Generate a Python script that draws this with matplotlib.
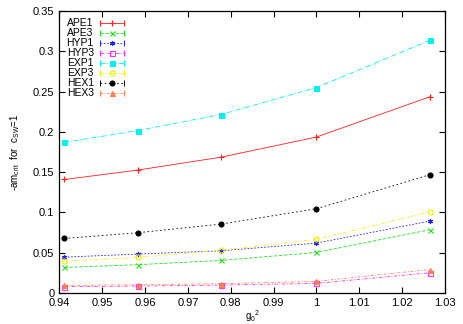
import numpy as np
import matplotlib
matplotlib.use("Agg")
import matplotlib.pyplot as plt
from matplotlib.lines import Line2D
from matplotlib.legend_handler import HandlerBase

plt.rcParams['font.family'] = ['Liberation Sans', 'DejaVu Sans']
plt.rcParams['font.size'] = 7
plt.rcParams['mathtext.fontset'] = 'custom'
plt.rcParams['mathtext.rm'] = 'Liberation Sans'
plt.rcParams['mathtext.it'] = 'Liberation Sans'

# g0^2 values
g0sq = [0.9412, 0.9583, 0.9777, 1.0, 1.0264]

ape1 = [0.1408, 0.1525, 0.1685, 0.1935, 0.2434]
ape3 = [0.0316, 0.0350, 0.0403, 0.0502, 0.0784]
hyp1 = [0.0444, 0.0482, 0.0523, 0.0618, 0.0891]
hyp3 = [0.0077, 0.0085, 0.0097, 0.0118, 0.0250]
exp1 = [0.1870, 0.2016, 0.2215, 0.2550, 0.3135]
exp3 = [0.0395, 0.0440, 0.0530, 0.0664, 0.1007]
hex1 = [0.0676, 0.0747, 0.0854, 0.1045, 0.1466]
hex3 = [0.0093, 0.0101, 0.0114, 0.0143, 0.0290]

labels = ['APE1', 'APE3', 'HYP1', 'HYP3', 'EXP1', 'EXP3', 'HEX1', 'HEX3']
series = [ape1, ape3, hyp1, hyp3, exp1, exp3, hex1, hex3]
colors = ['#ff2020', '#20e020', '#2020ff', '#ff30ff', '#00f0f0', '#f0f000', '#000000', '#ff7f50']
markers = ['+', 'x', (6, 2, 0), 's', 's', 'o', 'o', '^']
filled = [True, True, True, False, True, False, True, True]
dashes = [None, (4, 2), (2, 2), (4, 2, 1, 2), (6, 2, 1, 2), (4, 2, 1, 2, 1, 2), (2, 3), (3, 2, 1, 2)]


class CapHandler(HandlerBase):
    def create_artists(self, legend, orig, xdescent, ydescent, width, height, fontsize, trans):
        y = (height - ydescent) / 2.0
        x0, x1 = -xdescent, -xdescent + width
        ln = Line2D([x0, x1], [y, y])
        ln.update_from(orig)
        ln.set_marker('')
        caps = Line2D([x0, x1], [y, y], ls='none', marker='|', ms=4, mew=0.7,
                      color=orig.get_color())
        mk = Line2D([(x0 + x1) / 2], [y], ls='none', marker=orig.get_marker(),
                    ms=orig.get_markersize(), mew=orig.get_markeredgewidth(),
                    mfc=orig.get_markerfacecolor(), mec=orig.get_markeredgecolor())
        for a in (ln, caps, mk):
            a.set_transform(trans)
        return [ln, caps, mk]


fig = plt.figure(figsize=(4.63, 3.24), dpi=100)
ax = fig.add_axes([0.128, 0.096, 0.833, 0.870])

handles = []
for lab, ys, c, m, f, d in zip(labels, series, colors, markers, filled, dashes):
    h, = ax.plot(g0sq, ys, color=c, lw=0.6, marker=m, ms=3.6 if m != '+' else 4.5,
                 mfc=c if f else 'none', mec=c, mew=0.8, label=lab)
    if d is not None:
        h.set_dashes(d)
    handles.append(h)

ax.set_xlim(0.94, 1.03)
ax.set_ylim(0, 0.35)
ax.set_xticks(np.arange(0.94, 1.0301, 0.01))
ax.set_xticklabels(['0.94', '0.95', '0.96', '0.97', '0.98', '0.99', '1', '1.01', '1.02', '1.03'])
ax.set_yticks(np.arange(0, 0.3501, 0.05))
ax.set_yticklabels(['0', '0.05', '0.1', '0.15', '0.2', '0.25', '0.3', '0.35'])
ax.tick_params(direction='in', top=True, right=True, length=4, width=0.8, labelsize=8)
for s in ax.spines.values():
    s.set_linewidth(0.9)

ax.set_xlabel(r'g$_0$$^2$', fontsize=7, labelpad=0)
ax.set_ylabel(r'-am$_{crit}$  for  c$_{SW}$=1', fontsize=7, labelpad=8)

ax.legend(handles=handles, handler_map={Line2D: CapHandler()}, loc='upper left',
          frameon=False, markerfirst=False, handlelength=2.3, handletextpad=0.6,
          labelspacing=0.0, borderaxespad=0.3, fontsize=7.5)

fig.savefig('out.png', dpi=100)
